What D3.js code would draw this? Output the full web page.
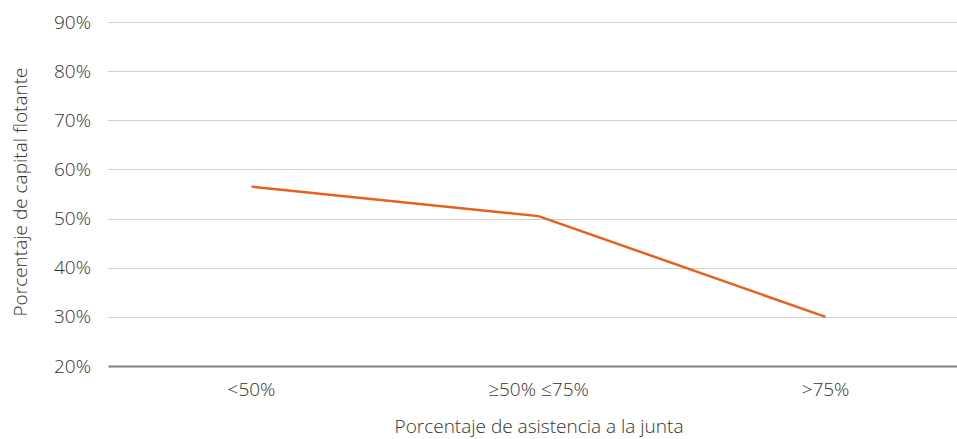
<!DOCTYPE html>
<html>
<head>
<meta charset="utf-8">
<script src="https://cdn.jsdelivr.net/npm/d3@7"></script>
<style>
  body { margin: 0; background: #fff; }
  text { font-family: "Open Sans", sans-serif; font-weight: 300; fill: #333; }
</style>
</head>
<body>
<div id="chart"></div>
<script>
var categories = ['<50%', '\u226550% \u226475%', '>75%'];
var values = [56.5, 50.5, 30.0];
var yTicks = [20, 30, 40, 50, 60, 70, 80, 90];
var xTitle = 'Porcentaje de asistencia a la junta';
var yTitle = 'Porcentaje de capital flotante';

var W = 957, H = 439;
var margin = {top: 22, right: -12, bottom: 73, left: 108},
    width = W - margin.left - margin.right,
    height = H - margin.top - margin.bottom;

var svg = d3.select("#chart").append("svg")
    .attr("width", W)
    .attr("height", H);

var g = svg.append("g")
    .attr("transform", `translate(${margin.left},${margin.top})`);

var xScale = d3.scaleBand()
    .domain(categories)
    .range([0, width])
    .padding(0);

var yScale = d3.scaleLinear()
    .domain([20, 90])
    .range([height, 0]);

// gridlines
g.selectAll(".grid")
    .data(yTicks.filter(d => d > 20))
    .enter().append("line")
    .attr("x1", 0)
    .attr("x2", width)
    .attr("y1", d => Math.round(yScale(d)) + 0.5)
    .attr("y2", d => Math.round(yScale(d)) + 0.5)
    .attr("stroke", "#d0d0d0")
    .attr("stroke-width", 1);

// y axis labels
var yAxis = g.append("g")
    .call(d3.axisLeft(yScale).tickValues(yTicks).tickFormat(d => d + "%").tickSize(0).tickPadding(17));
yAxis.select(".domain").remove();
yAxis.selectAll("text")
    .style("font-size", "19px")
    .attr("fill", "#333");

// x axis
var xAxis = g.append("g")
    .attr("transform", `translate(0,${height})`)
    .call(d3.axisBottom(xScale).tickSize(0).tickPadding(17));
xAxis.select(".domain")
    .attr("stroke", "#7f7f7f")
    .attr("stroke-width", 2);
xAxis.selectAll("text")
    .style("font-size", "19px")
    .attr("fill", "#333");

// line
var line = d3.line()
    .x((d, i) => xScale(categories[i]) + xScale.bandwidth() / 2)
    .y(d => yScale(d));

g.append("path")
    .datum(values)
    .attr("d", line)
    .attr("fill", "none")
    .attr("stroke", "#e8601c")
    .attr("stroke-width", 2.5);

// titles
svg.append("text")
    .attr("x", 539)
    .attr("y", 433)
    .attr("text-anchor", "middle")
    .style("font-size", "19px")
    .text(xTitle);

svg.append("text")
    .attr("transform", "translate(27,192) rotate(-90)")
    .attr("text-anchor", "middle")
    .style("font-size", "19px")
    .text(yTitle);
</script>
</body>
</html>
